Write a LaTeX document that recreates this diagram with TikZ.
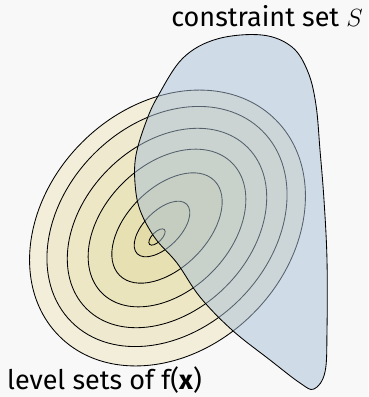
\documentclass[tikz,border=0pt]{standalone}
\usepackage{fontspec}
\setmainfont{Fira Sans}
\definecolor{bgc}{RGB}{248,248,248}
\definecolor{lvA}{RGB}{242,238,218}
\definecolor{lvB}{RGB}{239,234,207}
\definecolor{lvC}{RGB}{237,231,198}
\definecolor{lvD}{RGB}{234,228,189}
\definecolor{lvE}{RGB}{231,224,179}
\definecolor{lvF}{RGB}{228,220,168}
\definecolor{lvG}{RGB}{225,216,158}
\definecolor{setblue}{RGB}{168,192,216}
\begin{document}
\begin{tikzpicture}[x=1pt,y=-1pt,
  lvl/.style={draw=black,line width=0.85pt},
  cset/.style={draw=black,line width=0.85pt,fill=setblue,fill opacity=0.5},
  lbl/.style={font=\fontsize{27}{32}\selectfont,inner sep=0pt}]
\fill[bgc] (0,0) rectangle (368,397);
\useasboundingbox (0,0) rectangle (368,397);
% level sets
\draw[lvl,fill=lvA,rotate around={45:(167.5,228)}] (167.5,228) ellipse [x radius=153pt,y radius=121pt];
\draw[lvl,fill=lvB,rotate around={45:(167,226.5)}] (167,226.5) ellipse [x radius=135pt,y radius=103pt];
\draw[lvl,fill=lvC,rotate around={45:(167,228)}] (167,228) ellipse [x radius=114pt,y radius=83pt];
\draw[lvl,fill=lvD,rotate around={45:(167,228)}] (167,228) ellipse [x radius=92pt,y radius=63pt];
\draw[lvl,fill=lvE,rotate around={45:(167,228)}] (167,228) ellipse [x radius=67pt,y radius=40pt];
\draw[lvl,fill=lvF,rotate around={45:(162,229)}] (162,229) ellipse [x radius=35pt,y radius=18pt];
\draw[lvl,fill=lvG,rotate around={45:(157,237)}] (157,237) ellipse [x radius=10.5pt,y radius=4.8pt];
% constraint set
\draw[cset] plot[smooth cycle,tension=0.6] coordinates {
  (262,35) (292,47) (308,72) (316,105) (320,150) (324,200) (327,260) (327,330)
  (325,372) (314,389) (300,383) (270,360) (232,330) (200,297) (177,263) (155,238)
  (140,210) (135,183) (136,155) (146,122) (158,96) (183,58) (217,39)};
% labels
\node[lbl,anchor=base east] (cs) at (363,26) {constraint set $S$};
\node[lbl,anchor=base west] (ls) at (7,389) {level sets of f(\textbf{x})};
\end{tikzpicture}
\end{document}
